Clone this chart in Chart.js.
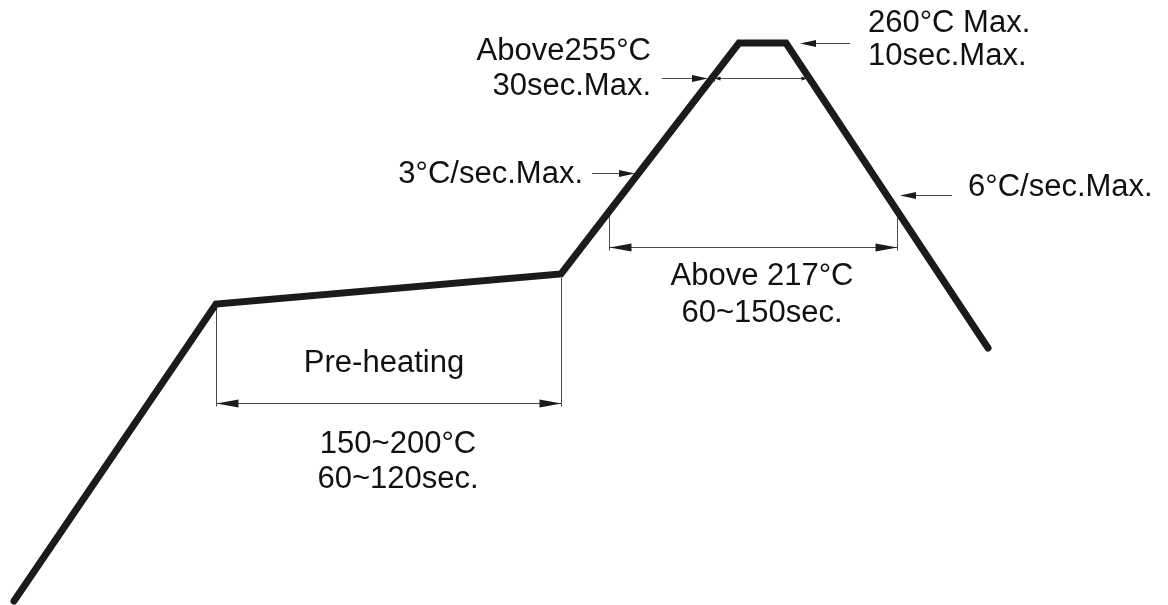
<!DOCTYPE html>
<html>
<head>
<meta charset="utf-8">
<script src="https://cdn.jsdelivr.net/npm/chart.js@4.4.1/dist/chart.umd.min.js"></script>
<style>
   html, body { margin: 0; padding: 0; background: #fff; }
   #wrap { width: 1168px; height: 605px; }
</style>
</head>
<body>
<div id="wrap"><canvas id="reflow"></canvas></div>
<script>
// profile corners (time, temp in drawing units)
const profileTime = [14, 216, 561, 739, 786, 988];
const profileTemp = [4, 301, 331, 562, 562, 257];

// dimension spans: start, end, level, tops of the extension lines
const spanFrom = [216, 609, 714];
const spanTo = [561, 897, 807];
const spanAt = [202, 358, 527];
const spanTopFrom = [298, 390, null];
const spanTopTo = [327, 387, null];

// leader arrows: tail, tip, level
const leaderTail = [850, 662, 592, 952];
const leaderTip = [800, 708, 635, 900];
const leaderAt = [562, 527, 432, 410];

// labels
const labelText = ['Pre-heating', '150~200°C', '60~120sec.', 'Above 217°C', '60~150sec.',
   'Above255°C', '30sec.Max.', '3°C/sec.Max.', '260°C Max.', '10sec.Max.', '6°C/sec.Max.'];
const labelX = [384, 398, 398, 762, 762, 651, 651, 583, 868, 868, 968];
const labelY = [233, 152, 117, 320, 283, 545, 510, 422, 573, 540, 409];
const labelAlign = ['center', 'center', 'center', 'center', 'center',
   'right', 'right', 'right', 'left', 'left', 'left'];

const INK = '#1c1a1b';
const THIN = '#4a4a4a';

function arrowHead(ctx, tipX, tipY, dir, len, half) {
   ctx.beginPath();
   ctx.moveTo(tipX, tipY);
   ctx.lineTo(tipX - dir * len, tipY - half);
   ctx.lineTo(tipX - dir * len, tipY + half);
   ctx.closePath();
   ctx.fill();
}

const notes = {
   id: 'notes',
   beforeDatasetsDraw(chart) {
      const ctx = chart.ctx;
      const xs = chart.scales.x, ys = chart.scales.y;
      ctx.save();
      ctx.strokeStyle = THIN;
      ctx.fillStyle = INK;
      ctx.lineWidth = 1;

      // dimension spans
      spanFrom.forEach((f, i) => {
         const x1 = Math.round(xs.getPixelForValue(f)) + 0.5;
         const x2 = Math.round(xs.getPixelForValue(spanTo[i])) + 0.5;
         const y = Math.round(ys.getPixelForValue(spanAt[i])) + 0.5;
         const small = spanTopFrom[i] === null;
         ctx.beginPath();
         ctx.moveTo(x1, y);
         ctx.lineTo(x2, y);
         if (!small) {
            ctx.moveTo(x1, ys.getPixelForValue(spanTopFrom[i]));
            ctx.lineTo(x1, y + 3);
            ctx.moveTo(x2, ys.getPixelForValue(spanTopTo[i]));
            ctx.lineTo(x2, y + 3);
         } else {
            ctx.moveTo(x1, y - 3);
            ctx.lineTo(x1, y + 3);
         }
         ctx.stroke();
         const len = small ? 6 : 22;
         const half = small ? 2 : 4;
         arrowHead(ctx, x1, y, -1, len, half);
         arrowHead(ctx, x2, y, 1, len, half);
      });

      // leader arrows
      leaderTail.forEach((t, i) => {
         const x1 = xs.getPixelForValue(t);
         const x2 = xs.getPixelForValue(leaderTip[i]);
         const y = Math.round(ys.getPixelForValue(leaderAt[i])) + 0.5;
         const dir = x2 > x1 ? 1 : -1;
         ctx.beginPath();
         ctx.moveTo(x1, y);
         ctx.lineTo(x2 - dir * 10, y);
         ctx.stroke();
         arrowHead(ctx, x2, y, dir, 16, 3.5);
      });
      ctx.restore();
   },
   afterDraw(chart) {
      const ctx = chart.ctx;
      const xs = chart.scales.x, ys = chart.scales.y;
      ctx.save();
      ctx.fillStyle = '#111';
      ctx.font = '31px "Liberation Sans", Arial, sans-serif';
      ctx.textBaseline = 'alphabetic';
      labelText.forEach((txt, i) => {
         ctx.textAlign = labelAlign[i];
         ctx.fillText(txt, xs.getPixelForValue(labelX[i]), ys.getPixelForValue(labelY[i]));
      });
      ctx.restore();
   }
};

new Chart(document.getElementById('reflow'), {
   type: 'line',
   data: {
      datasets: [{
         data: profileTime.map((t, i) => ({ x: t, y: profileTemp[i] })),
         borderColor: INK,
         borderWidth: 7,
         borderCapStyle: 'round',
         borderJoinStyle: 'miter',
         pointRadius: 0,
         tension: 0,
         fill: false
      }]
   },
   options: {
      responsive: true,
      maintainAspectRatio: false,
      animation: false,
      layout: { padding: 0 },
      plugins: { legend: { display: false }, tooltip: { enabled: false } },
      scales: {
         x: { type: 'linear', min: 0, max: 1168, display: false },
         y: { type: 'linear', min: 0, max: 605, display: false }
      }
   },
   plugins: [notes]
});
</script>
</body>
</html>
